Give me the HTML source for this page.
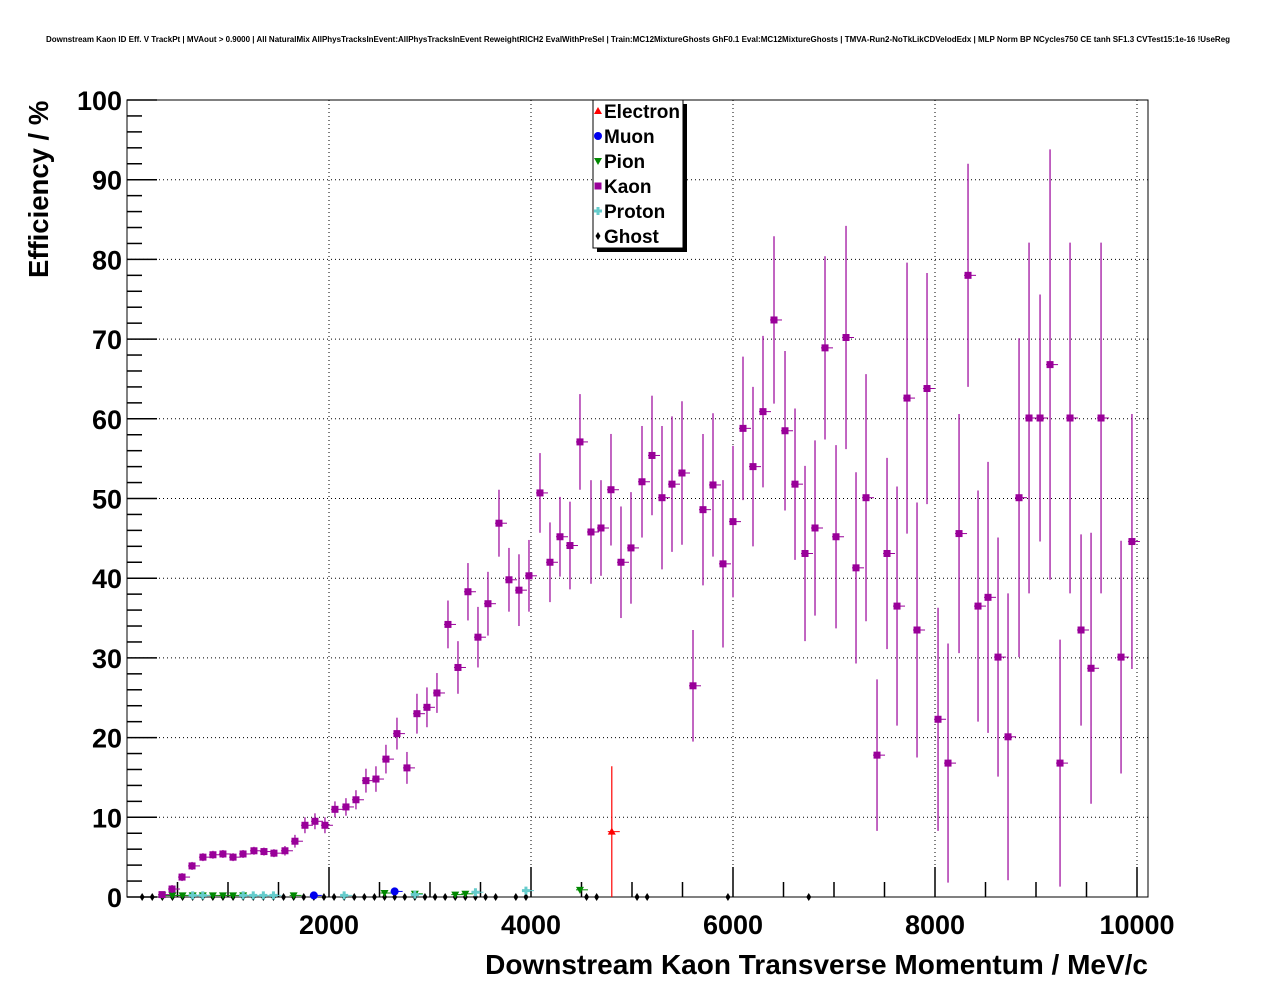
<!DOCTYPE html>
<html><head><meta charset="utf-8"><style>
body{margin:0;background:#fff;}
svg text{font-family:"Liberation Sans",sans-serif;font-weight:bold;}
</style></head><body>
<svg id="c" width="1276" height="996" xmlns="http://www.w3.org/2000/svg">
<rect width="1276" height="996" fill="#fff"/>
<text x="638" y="42" font-size="8" text-anchor="middle">Downstream Kaon ID Eff. V TrackPt | MVAout &gt; 0.9000 | All NaturalMix AllPhysTracksInEvent:AllPhysTracksInEvent ReweightRICH2 EvalWithPreSel | Train:MC12MixtureGhosts GhF0.1 Eval:MC12MixtureGhosts | TMVA-Run2-NoTkLikCDVelodEdx | MLP Norm BP NCycles750 CE tanh SF1.3 CVTest15:1e-16 !UseReg</text>
<g id="grid"></g>
<g id="axes"></g>
<g id="marks"></g>
<text x="1148" y="974" font-size="28" text-anchor="end">Downstream Kaon Transverse Momentum / MeV/c</text>
<text transform="translate(48,278) rotate(-90)" font-size="27.5">Efficiency / %</text>
<g>
<rect x="597" y="104" width="90" height="148" fill="#000"/>
<rect x="593" y="100" width="90" height="148" fill="#fff" stroke="#000" stroke-width="1"/>
<g id="leg"></g>
</g>
</svg>
<script>
const kaonX=[347,446,545,644,752,851,950,1050,1149,1257,
1356,1455,1564,1663,1762,1861,1960,2059,2168,2267,
2366,2465,2564,2673,2772,2871,2970,3069,3178,3277,
3376,3475,3574,3683,3782,3881,3980,4089,4188,4287,
4386,4485,4594,4693,4792,4891,4990,5099,5198,5297,
5396,5495,5604,5703,5802,5901,6000,6099,6198,6297,
6406,6515,6614,6713,6812,6911,7020,7119,7218,7317,
7426,7525,7624,7723,7822,7921,8030,8129,8238,8327,
8426,8525,8624,8723,8832,8931,9040,9139,9238,9337,
9446,9545,9644,9842,9950];
const kaonVals=[0.3,1,2.5,3.9,5,5.3,5.4,5,5.4,5.8,
5.7,5.5,5.8,7,9,9.5,9,11,11.3,12.2,
14.6,14.8,17.3,20.5,16.2,23,23.8,25.6,34.2,28.8,
38.3,32.6,36.8,46.9,39.8,38.5,40.3,50.7,42,45.2,
44.1,57.1,45.8,46.3,51.1,42,43.8,52.1,55.4,50.1,
51.8,53.2,26.5,48.6,51.7,41.8,47.1,58.8,54,60.9,
72.4,58.5,51.8,43.1,46.3,68.9,45.2,70.2,41.3,50.1,
17.8,43.1,36.5,62.6,33.5,63.8,22.3,16.8,45.6,78,
36.5,37.6,30.1,20.1,50.1,60.1,60.1,66.8,16.8,60.1,
33.5,28.7,60.1,30.1,44.6];
const kaonErrs=[0.3,0.5,0.5,0.5,0.5,0.5,0.5,0.5,0.5,0.5,
0.5,0.5,0.6,0.8,1,1,1,1,1.1,1.2,
1.5,1.6,1.8,2,2,2.5,2.5,2.5,3,3.3,
3.6,3.8,4,4.2,4,4.5,4.5,5,5,5,
5.5,6,6.5,6,7,7,7,7,7.5,9,
8.5,9,7,9.5,9,10.5,9.5,9,10,9.5,
10.5,10,9.5,11,11,11.5,11.5,14,12,15.5,
9.5,12,15,17,16,14.5,14,15,15,14,
14.5,17,15,18,20,22,15.5,27,15.5,22,
12,17,22,14.6,16];
const ghostX=[150,250,350,450,550,650,750,850,950,1050,1150,1250,1350,1450,1550,1650,1750,1850,1950,2050,2150,2250,2350,2450,2550,2650,2750,2850,2950,3050,3150,3250,3350,3450,3550,3650,3850,3950,4550,4650,5050,5150,5950,6750];
const pionX=[350,450,550,650,750,850,950,1050,1150,1650,2550,2850,3250,3350,4485];
const pionVals=[0.2,0.2,0.2,0.2,0.2,0.2,0.2,0.2,0.2,0.2,0.5,0.4,0.3,0.4,0.9];
const protonX=[650,750,1150,1250,1350,1450,2150,2850,3450,3950];
const protonVals=[0.2,0.2,0.2,0.2,0.2,0.2,0.2,0.3,0.6,0.8];
const muonX=[1850,2650];
const muonVals=[0.2,0.7];
const electronX=[4800];
const electronVals=[8.2];
const electronErrs=[8.2];
const xTicks=[2000,4000,6000,8000,10000];
const yTicks=[0,10,20,30,40,50,60,70,80,90,100];

const L=127,R=1148,T=100,B=897;
const X=v=>L+v*0.101;
const Y=v=>B-v*7.97;
const NS="http://www.w3.org/2000/svg";
function el(tag,attrs,parent){const e=document.createElementNS(NS,tag);for(const k in attrs)e.setAttribute(k,attrs[k]);parent.appendChild(e);return e;}
const grid=document.getElementById('grid'),axes=document.getElementById('axes'),marks=document.getElementById('marks');
xTicks.forEach(t=>{const l=el('line',{x1:X(t),x2:X(t),y1:T,y2:B,stroke:'#000','stroke-width':1,'stroke-dasharray':'1,3'},grid);

});
yTicks.forEach(t=>{if(t===0||t===100)return;const l=el('line',{x1:L,x2:R,y1:Y(t),y2:Y(t),stroke:'#000','stroke-width':1,'stroke-dasharray':'1,3'},grid);

});
const fr=el('rect',{x:L,y:T,width:R-L,height:B-T,fill:'none',stroke:'#000','stroke-width':1},axes);


for(let v=500;v<=10100;v+=500){const major=v%2000===0;el('line',{x1:X(v),x2:X(v),y1:B,y2:B-(major?30:15),stroke:'#000','stroke-width':1.5},axes);}
xTicks.forEach(t=>{const tx=el('text',{x:X(t),y:B+37,'font-size':27,'text-anchor':'middle'},axes);tx.textContent=t;

});
for(let v=0;v<=100;v+=2){const major=v%10===0;el('line',{x1:L,x2:L+(major?30:15),y1:Y(v),y2:Y(v),stroke:'#000','stroke-width':1.5},axes);}
yTicks.forEach(t=>{const tx=el('text',{x:L-5,y:Y(t)+10,'font-size':27,'text-anchor':'end'},axes);tx.textContent=t;

});
function marker(type,cx,cy,col,g){
 if(type==='sq')return el('rect',{x:cx-3.5,y:cy-3.5,width:7,height:7,fill:col},g);
 if(type==='circ')return el('circle',{cx,cy,r:4,fill:col},g);
 if(type==='up')return el('polygon',{points:`${cx},${cy-4} ${cx-4},${cy+3} ${cx+4},${cy+3}`,fill:col},g);
 if(type==='down')return el('polygon',{points:`${cx-4},${cy-3} ${cx+4},${cy-3} ${cx},${cy+4}`,fill:col},g);
 if(type==='cross')return el('path',{d:`M${cx-4} ${cy-1.5}h2.5v-2.5h3v2.5h2.5v3h-2.5v2.5h-3v-2.5h-2.5z`,fill:col},g);
 if(type==='dia')return el('polygon',{points:`${cx},${cy-4} ${cx+2.5},${cy} ${cx},${cy+4} ${cx-2.5},${cy}`,fill:col},g);
}
function series(name,xs,vals,errs,col,type){
 const g=el('g',{},marks);
 
 
 xs.forEach((x,i)=>{const cx=X(x),cy=Y(vals[i]);
  el('line',{x1:cx-4,x2:cx+8,y1:cy,y2:cy,stroke:col,'stroke-width':1},g);
  const e=errs?errs[i]:0;
  if(e>0)el('line',{x1:cx,x2:cx,y1:Y(Math.min(100,vals[i]+e)),y2:Y(Math.max(0,vals[i]-e)),stroke:col,'stroke-width':1.2},g);
  const m=marker(type,cx,cy,col,g);
  
  
 });
}
series('ghost',ghostX,ghostX.map(()=>0),null,'#000','dia');
series('pion',pionX,pionVals,null,'#008800','down');
series('proton',protonX,protonVals,null,'#66cccc','cross');
series('muon',muonX,muonVals,null,'#0000ee','circ');
series('kaon',kaonX,kaonVals,kaonErrs,'#990099','sq');
series('electron',electronX,electronVals,electronErrs,'#ff0000','up');
const leg=document.getElementById('leg');
const entries=[['Electron','#ff0000','up'],['Muon','#0000ee','circ'],['Pion','#008800','down'],['Kaon','#990099','sq'],['Proton','#66cccc','cross'],['Ghost','#000','dia']];
entries.forEach((e,i)=>{const y=111+i*25;
 const m=marker(e[2],598,y,e[1],leg);
 
 
 const t=el('text',{x:604,y:y+7,'font-size':19},leg);t.textContent=e[0];
 
 
});
</script>
</body></html>
